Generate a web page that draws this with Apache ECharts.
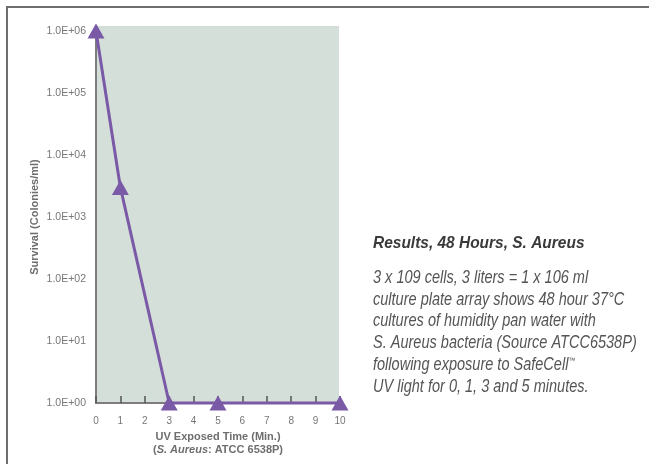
<!DOCTYPE html>
<html>
<head>
<meta charset="utf-8">
<script src="https://cdn.jsdelivr.net/npm/echarts@6/dist/echarts.min.js"></script>
<style>html,body{margin:0;padding:0;background:#fff}#c{width:649px;height:464px}</style>
</head>
<body>
<div id="c"></div>
<script>
var times = [0, 1, 3, 5, 10];
var survival = [1000000, 3000, 1, 1, 1];
var yTickLabels = ['1.0E+00', '1.0E+01', '1.0E+02', '1.0E+03', '1.0E+04', '1.0E+05', '1.0E+06'];
var xAxisTitle = 'UV Exposed Time (Min.)';
var yAxisTitle = 'Survival (Colonies/ml)';
var heading = 'Results, 48 Hours, S. Aureus';
var bodyLines = [
  '3 x 109 cells, 3 liters = 1 x 106 ml',
  'culture plate array shows 48 hour 37°C',
  'cultures of humidity pan water with',
  'S. Aureus bacteria (Source ATCC6538P)',
  'following exposure to SafeCell{tm|™}',
  'UV light for 0, 1, 3 and 5 minutes.'
];

var sans = '"Liberation Sans", Arial, sans-serif';
var chart = echarts.init(document.getElementById('c'));
var graphics = [
  { type: 'polyline', shape: { points: [[7, 464], [7, 7], [649, 7]] }, style: { stroke: '#6e6e6e', lineWidth: 2, fill: null }, z: 10 },
  { type: 'rect', shape: { x: 96, y: 26, width: 243, height: 377 }, style: { fill: '#d5dfda' }, z: -10 },
  { type: 'text', x: 373, y: 243, scaleX: 0.91, style: { text: heading, font: 'italic bold 17px ' + sans, fill: '#3a3a3a', textVerticalAlign: 'middle' } }
];
bodyLines.forEach(function (t, i) {
  graphics.push({
    type: 'text', x: 373, y: 278 + i * 21.8, scaleX: 0.83,
    style: {
      text: t, font: 'italic 17.5px ' + sans, fill: '#555', textVerticalAlign: 'middle',
      rich: { tm: { fontSize: 8, fontStyle: 'italic', fontFamily: 'Liberation Sans', fill: '#555', padding: [0, 0, 9, 0] } }
    }
  });
});

chart.setOption({
  animation: false,
  grid: { left: 96, right: 309, top: 31, bottom: 61 },
  graphic: graphics,
  xAxis: {
    type: 'value', min: 0, max: 10, interval: 1,
    axisLine: { show: true, lineStyle: { color: '#7d7d7d', width: 2 } },
    axisTick: { show: true, inside: true, length: 7, lineStyle: { color: '#555', width: 1.5 } },
    splitLine: { show: false },
    axisLabel: { color: '#777', fontSize: 10, fontFamily: 'Liberation Sans', margin: 13 },
    name: '{b|' + xAxisTitle + '}\n{b|(}{i|S. Aureus}{b|: ATCC 6538P)}',
    nameLocation: 'middle', nameGap: 27,
    nameTextStyle: {
      rich: {
        b: { fontWeight: 'bold', fontSize: 11, color: '#6e6e6e', fontFamily: 'Liberation Sans', lineHeight: 13 },
        i: { fontWeight: 'bold', fontStyle: 'italic', fontSize: 11, color: '#6e6e6e', fontFamily: 'Liberation Sans', lineHeight: 13 }
      }
    }
  },
  yAxis: {
    type: 'log', logBase: 10, min: 1, max: 1000000,
    axisLine: { show: true, lineStyle: { color: '#7d7d7d', width: 2 } },
    axisTick: { show: false },
    splitLine: { show: false },
    axisLabel: {
      color: '#777', fontSize: 10.5, fontFamily: 'Liberation Sans', margin: 10,
      formatter: function (v) { return yTickLabels[Math.round(Math.log10(v))]; }
    },
    name: yAxisTitle, nameLocation: 'middle', nameGap: 56, nameRotate: 90,
    nameTextStyle: { fontWeight: 'bold', fontSize: 11, color: '#6e6e6e', fontFamily: 'Liberation Sans' }
  },
  series: [{
    type: 'line',
    data: times.map(function (t, i) { return [t, survival[i]]; }),
    symbol: 'triangle', symbolSize: [17, 15],
    showAllSymbol: true,
    clip: false,
    lineStyle: { color: '#7a59a6', width: 3 },
    itemStyle: { color: '#7a59a6' }
  }]
});
</script>
</body>
</html>
